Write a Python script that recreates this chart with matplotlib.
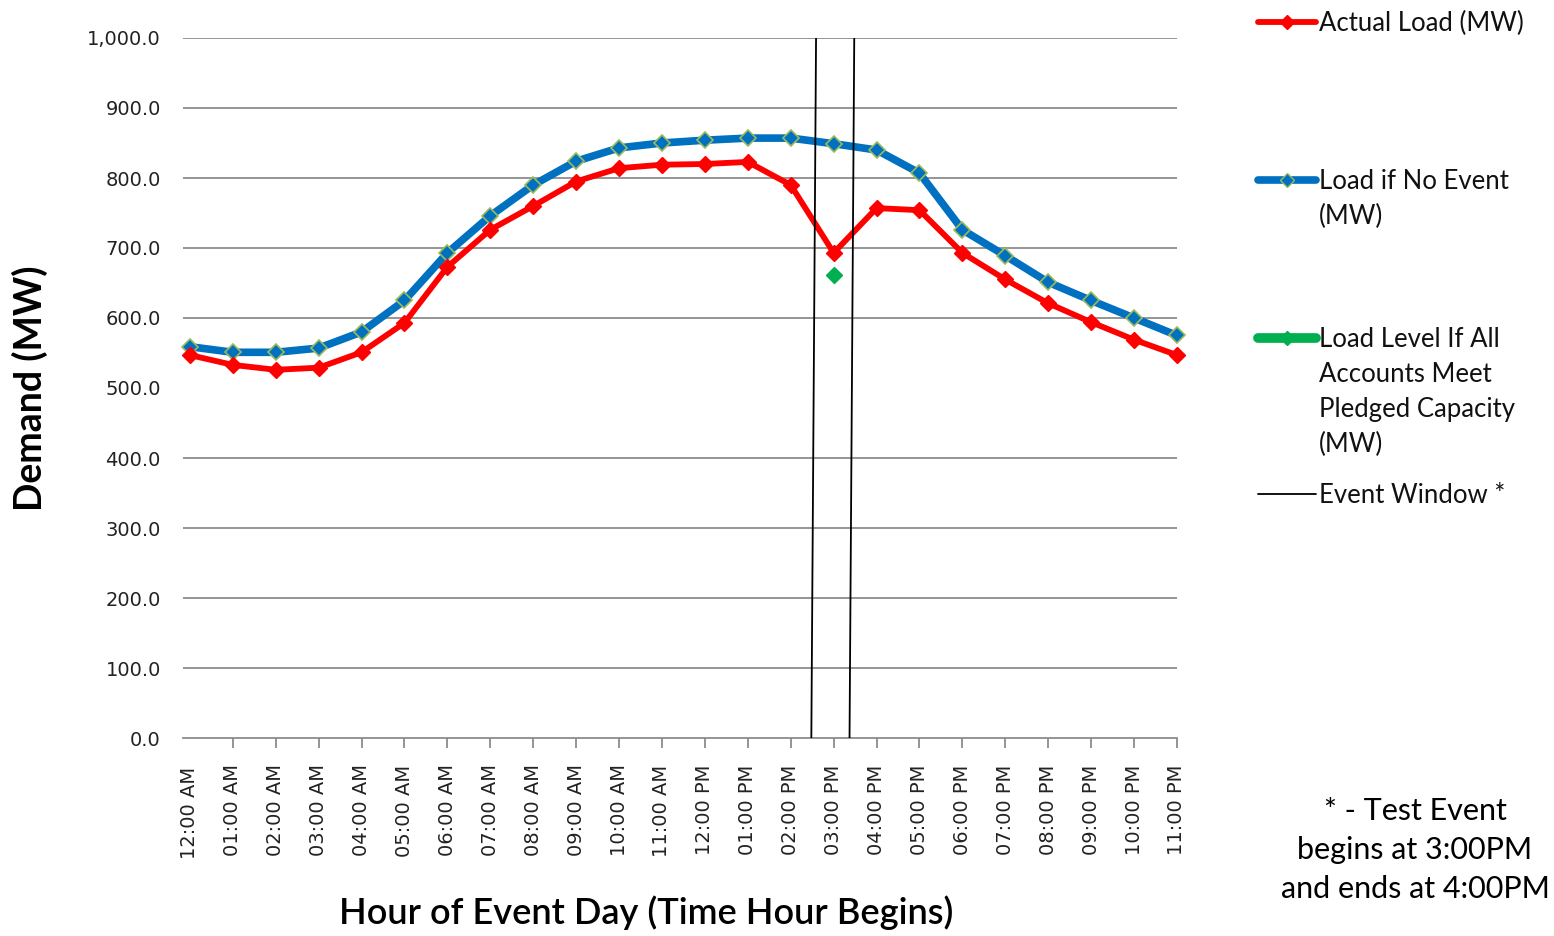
import numpy as np
import matplotlib
matplotlib.use("Agg")
import matplotlib.pyplot as plt
from matplotlib.lines import Line2D
from matplotlib.ticker import FuncFormatter

hours = ["12:00 AM", "01:00 AM", "02:00 AM", "03:00 AM", "04:00 AM", "05:00 AM",
         "06:00 AM", "07:00 AM", "08:00 AM", "09:00 AM", "10:00 AM", "11:00 AM",
         "12:00 PM", "01:00 PM", "02:00 PM", "03:00 PM", "04:00 PM", "05:00 PM",
         "06:00 PM", "07:00 PM", "08:00 PM", "09:00 PM", "10:00 PM", "11:00 PM"]

actual_load = [547, 533, 526, 529, 551, 593, 673, 726, 760, 795, 814, 819,
               820, 823, 790, 693, 757, 754, 693, 655, 621, 594, 569, 547]
no_event_load = [559, 551, 551, 557, 580, 625, 693, 746, 790, 824, 843, 850,
                 854, 857, 857, 849, 840, 807, 726, 689, 651, 625, 600, 575]
pledged_hour = [15]
pledged_load = [661]

# event window lines (slightly slanted in the source chart), in category units
event_top = [14.59, 15.48]
event_bottom = [14.48, 15.37]

grid_values = [100, 200, 300, 400, 600, 700, 800, 900, 1000]
y_ticks = [0, 100, 200, 300, 400, 500, 600, 700, 800, 900, 1000]

fig = plt.figure(figsize=(15.54, 9.36), dpi=100)
ax = fig.add_axes([183 / 1554, 1 - 738 / 936, (1177 - 183) / 1554, 700 / 936])

x = np.arange(len(hours))

for g in grid_values:
    ax.axhline(g, color="#8c8c8c", lw=1.3, zorder=1)

ax.plot(x, no_event_load, color="#0070C0", lw=5.5, marker="D", ms=8,
        mfc="#0070C0", mec="#9BBB59", mew=1.2, zorder=3, clip_on=False)
ax.plot(x, actual_load, color="#FF0000", lw=4.2, marker="D", ms=8,
        mfc="#FF0000", mec="#FF0000", zorder=4, clip_on=False)
ax.plot(pledged_hour, pledged_load, color="#00B050", lw=0, marker="D", ms=8,
        mfc="#00B050", mec="#00B050", zorder=4)

for t, b in zip(event_top, event_bottom):
    ax.plot([b, t], [0, 1000], color="black", lw=1.3, zorder=5)

ax.set_xlim(-0.16, 23)
ax.set_ylim(0, 1000)
ax.set_xticks(x[1:])
ax.set_xticklabels(hours[1:], rotation=90, fontsize=14, family="DejaVu Sans",
                   color="#222222")
ax.set_xticks([0], minor=True)
ax.set_xticklabels([hours[0]], minor=True, rotation=90, fontsize=14,
                   family="DejaVu Sans", color="#222222")
ax.tick_params(axis="x", which="minor", length=0, pad=12 + 7 * 0.72 + 3.5)
ax.set_yticks(y_ticks)
ax.yaxis.set_major_formatter(FuncFormatter(lambda v, p: f"{v:,.1f}"))
ax.tick_params(axis="y", length=0, pad=16, labelsize=14, labelcolor="#222222")
ax.tick_params(axis="x", which="major", length=7, width=1.3, color="#8c8c8c", pad=12)

for s in ["top", "right", "left"]:
    ax.spines[s].set_visible(False)
ax.spines["bottom"].set_color("#8c8c8c")
ax.spines["bottom"].set_linewidth(1.3)

fig.text(30 / 1554, 1 - 388 / 936, "Demand (MW)", rotation=90, fontsize=27,
         fontweight="bold", family="Lato", ha="center", va="center")
fig.text(646 / 1554, 1 - 913 / 936, "Hour of Event Day (Time Hour Begins)",
         fontsize=26, fontweight="semibold", family="Lato", ha="center", va="center")

# legend, built by hand to follow the source layout
legend_items = [
    (22, "Actual Load (MW)", dict(color="#FF0000", lw=4.2, marker="D", ms=7,
                                  markevery=[1], mfc="#FF0000", mec="#FF0000")),
    (180, "Load if No Event\n(MW)", dict(color="#0070C0", lw=5.5, marker="D", ms=7,
                                          markevery=[1], mfc="#0070C0", mec="#9BBB59")),
    (338, "Load Level If All\nAccounts Meet\nPledged Capacity\n(MW)",
     dict(color="#00B050", lw=7, marker="D", ms=7, markevery=[1],
          mfc="#00B050", mec="#00B050")),
    (494, "Event Window *", dict(color="black", lw=1.3)),
]
for ypix, label, style in legend_items:
    yy = 1 - ypix / 936
    fig.add_artist(Line2D([1258 / 1554, 1287 / 1554, 1316 / 1554], [yy, yy, yy],
                          transform=fig.transFigure, solid_capstyle="round", **style))
    fig.text(1319 / 1554, yy + 11 / 936, label, fontsize=18.5, family="Lato",
             ha="left", va="top", linespacing=1.5, color="#111111")

fig.text(1415 / 1554, 1 - 850 / 936,
         "* - Test Event\nbegins at 3:00PM\nand ends at 4:00PM",
         fontsize=22, family="Lato", ha="center", va="center", linespacing=1.5)

fig.savefig("out.png", dpi=100)
